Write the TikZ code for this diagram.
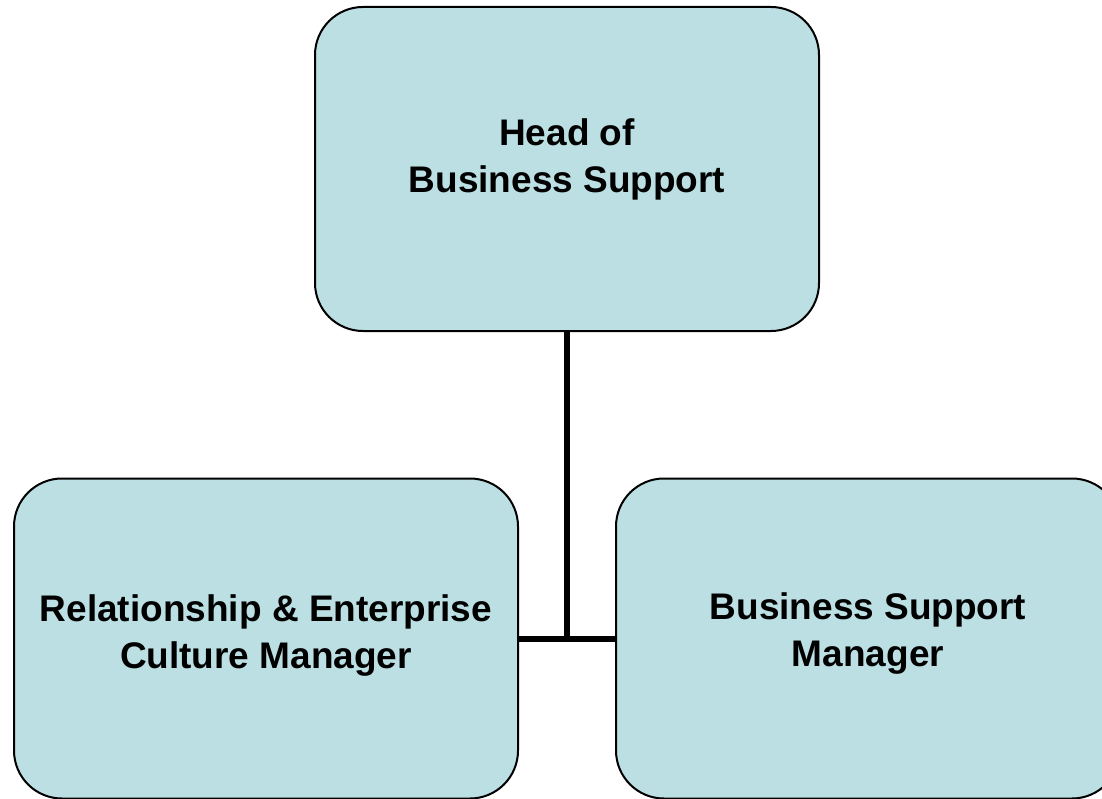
\documentclass[tikz,border=0pt]{standalone}
\usepackage{fontspec}
\setmainfont{Liberation Sans}
\definecolor{boxfill}{HTML}{BBDFE3}
\begin{document}
\begin{tikzpicture}[x=1pt,y=-1pt,
  orgbox/.style={draw=black,line width=2pt,fill=boxfill,rounded corners=48pt,rectangle,inner sep=0pt},
  orglabel/.style={align=center,font=\bfseries\fontsize{37}{47}\selectfont,inner sep=0pt},
  conn/.style={line width=5.5pt,draw=black}]
\useasboundingbox (0,0) rectangle (1102,799);
\clip (0,0) rectangle (1102,799);
\node[orgbox,minimum width=504pt,minimum height=324pt] (head) at (567,169) {};
\node[orgbox,minimum width=504pt,minimum height=320pt] (rel) at (266,638.5) {};
\node[orgbox,minimum width=504pt,minimum height=320pt] (bsm) at (868,638.5) {};
\coordinate (junc) at (567,639);
\draw[conn] (head.south) -- (junc);
\draw[conn] (rel.east |- junc) -- (bsm.west |- junc);
\node[orglabel] (headt) at (567,159.5) {Head of\\Business Support};
\node[orglabel] (relt) at (266,636) {Relationship \& Enterprise\\Culture Manager};
\node[orglabel] (bsmt) at (868,634) {Business Support\\Manager};
\end{tikzpicture}
\end{document}
